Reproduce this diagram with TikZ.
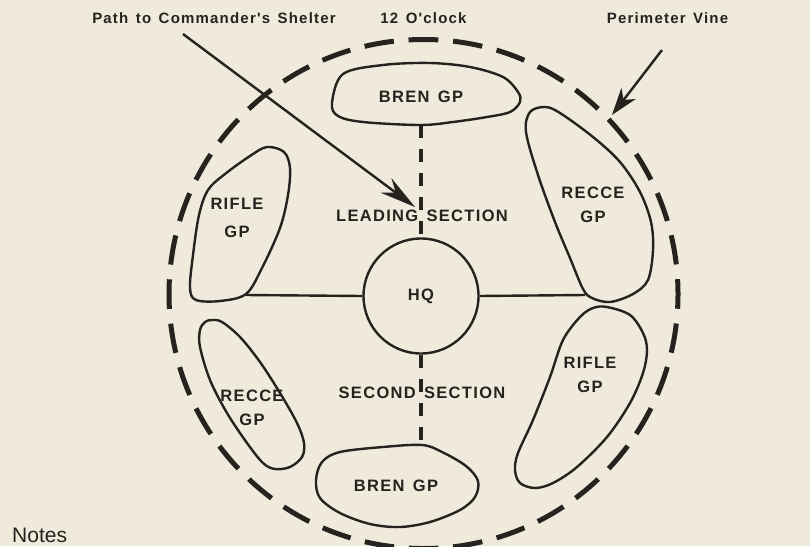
\documentclass[tikz,border=0pt]{standalone}
\usepackage{fontspec}
\setmainfont{Liberation Sans}
\newfontfamily\lblfont{Liberation Sans}[LetterSpace=8,WordSpace=1.4]
\usetikzlibrary{arrows.meta}
\definecolor{bg}{RGB}{240,234,220}
\definecolor{ink}{RGB}{38,34,30}
\begin{document}
\begin{tikzpicture}[x=1pt,y=-1pt,
  blob/.style={draw=ink,line width=2.4pt,line join=round},
  conn/.style={draw=ink,line width=2.4pt},
  vdash/.style={draw=ink,line width=3.8pt,dash pattern=on 13pt off 11pt},
  perim/.style={draw=ink,line width=5pt,dash pattern=on 29.6pt off 14.82pt,dash phase=14.8pt},
  arrA/.style={draw=ink,line width=2.4pt,-{Stealth[length=36pt,width=18pt,inset=12pt]}},
  arrB/.style={draw=ink,line width=2.4pt,-{Stealth[length=27pt,width=18pt,inset=8pt]}},
  lbl/.style={font=\lblfont\bfseries\fontsize{16.5pt}{24pt}\selectfont,text=ink,inner sep=0pt,align=center},
  toplbl/.style={font=\lblfont\bfseries\fontsize{15pt}{18pt}\selectfont,text=ink,inner sep=0pt},
  hqnode/.style={circle,draw=ink,line width=2.4pt,minimum size=115pt,inner sep=0pt,
    font=\lblfont\bfseries\fontsize{16.5pt}{20pt}\selectfont,text=ink}
]
\fill[bg] (0,0) rectangle (810,546);
\useasboundingbox (0,0) rectangle (810,546);

% perimeter vine
\coordinate (pc) at (423.5,294);
\draw[perim] (423.5,39.5) arc[start angle=-90, delta angle=360, radius=254.5];

% groups
\draw[blob] plot[smooth cycle, tension=0.55] coordinates {(332,103) (343,74) (383,65) (430,63) (470,67) (503,77) (518,92) (520,102) (510,112) (487,117) (453,122) (420,125) (363,122) (338,116)};
\draw[blob] plot[smooth cycle, tension=0.55] coordinates {(316,480) (322,462) (340,452) (383,447) (422,445) (442,452) (466,466) (478,481) (475,497) (460,510) (430,522) (400,527) (370,524) (340,513) (320,498)};
\draw[blob] plot[smooth cycle, tension=0.55] coordinates {(267,147) (284,152) (290,168) (288,195) (280,228) (262,268) (246,294) (220,301) (196,300) (190,288) (193,255) (199,215) (208,190) (225,174) (250,156)};
\draw[blob] plot[smooth cycle, tension=0.55] coordinates {(530,112) (545,107) (560,113) (593,137) (620,162) (640,192) (651,222) (653,250) (648,280) (633,294) (610,302) (592,298) (583,289) (570,258) (555,222) (538,175) (526,132)};
\draw[blob] plot[smooth cycle, tension=0.55] coordinates {(212,320) (222,322) (240,337) (260,362) (280,393) (297,423) (304,443) (302,457) (290,467) (275,469) (263,463) (247,443) (227,413) (210,380) (200,347) (200,330) (205,322)};
\draw[blob] plot[smooth cycle, tension=0.55] coordinates {(607,307) (630,315) (643,333) (647,350) (643,373) (630,403) (607,437) (577,467) (553,483) (535,488) (520,483) (515,470) (518,453) (533,420) (550,377) (563,340) (580,317) (593,308)};

% HQ and connectors
\node[hqnode] (hq) at (421,296) {HQ};
\coordinate (bt) at (421,125);
\coordinate (bb) at (421,445);
\coordinate (rl) at (246,295);
\coordinate (rr) at (585,295);
\draw[vdash] (bt) -- (hq.north);
\draw[vdash] (hq.south) -- (bb);
\draw[conn] (hq.west) -- (rl);
\draw[conn] (hq.east) -- (rr);

% group labels
\node[lbl] (brenT) at (421,97) {BREN GP};
\node[lbl] (brenB) at (396,486) {BREN GP};
\node[lbl] (rifleL) at (237,218) {RIFLE\\[4pt]GP};
\node[lbl] (recceR) at (593,205) {RECCE\\GP};
\node[lbl] (recceL) at (252,408) {RECCE\\GP};
\node[lbl] (rifleR) at (590,375) {RIFLE\\GP};
\node[lbl] (lead) at (422,216) {LEADING SECTION};
\node[lbl] (second) at (422,393) {SECOND SECTION};

% top labels and arrows
\node[toplbl] (lpath) at (214,18) {Path to Commander's Shelter};
\node[toplbl] (lclock) at (423.5,18) {12 O'clock};
\node[toplbl] (lvine) at (667.5,18) {Perimeter Vine};
\coordinate (pa) at (183,34);
\coordinate (pt) at (415,207);
\draw[arrA] (pa) -- (pt);
\coordinate (va) at (662,50);
\coordinate (vt) at (612,115);
\draw[arrB] (va) -- (vt);

\node[anchor=base west,inner sep=0pt,font=\fontsize{21pt}{24pt}\selectfont,text=ink] (notes) at (12,542) {Notes};
\end{tikzpicture}
\end{document}
